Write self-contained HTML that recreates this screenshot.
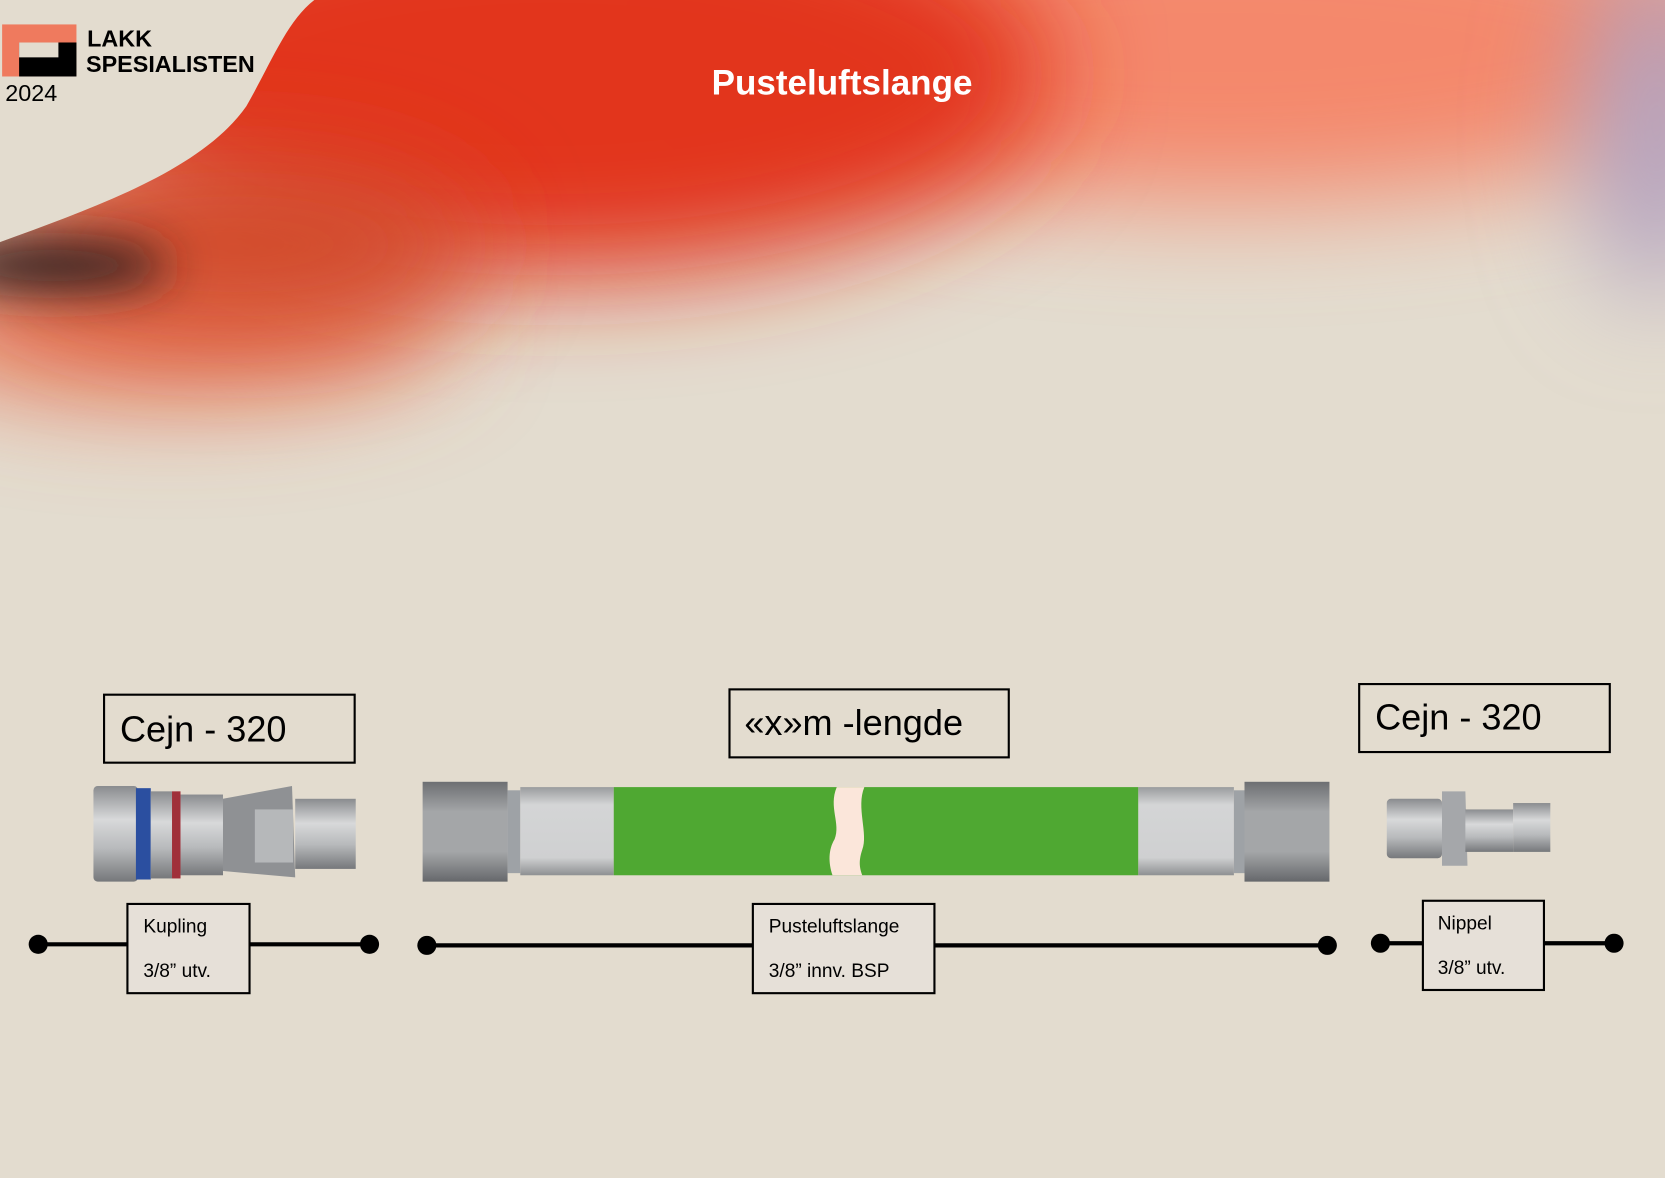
<!DOCTYPE html>
<html><head><meta charset="utf-8"><style>
html,body{margin:0;padding:0;background:#e3dccf}
svg{display:block}
text{font-family:"Liberation Sans",sans-serif}
</style></head><body>
<svg width="1665" height="1178" viewBox="0 0 1568 1109" preserveAspectRatio="none" xmlns="http://www.w3.org/2000/svg">
<defs>
<clipPath id="cp"><path d="M0,228 C90,195 190,160 232,100 C255,60 270,20 296,0 L1568,0 L1568,1109 L0,1109 Z"/></clipPath>
<filter id="b1" filterUnits="userSpaceOnUse" x="-400" y="-400" width="2400" height="1400"><feGaussianBlur stdDeviation="50"/></filter>
<filter id="b2" filterUnits="userSpaceOnUse" x="-400" y="-400" width="2400" height="1400"><feGaussianBlur stdDeviation="22"/></filter>
<linearGradient id="nut" x1="0" y1="0" x2="0" y2="1"><stop offset="0" stop-color="#6d6f72"/><stop offset="0.3" stop-color="#a4a6a8"/><stop offset="0.7" stop-color="#a4a6a8"/><stop offset="1" stop-color="#66686b"/></linearGradient>
<linearGradient id="fer" x1="0" y1="0" x2="0" y2="1"><stop offset="0" stop-color="#9a9c9e"/><stop offset="0.2" stop-color="#d4d5d6"/><stop offset="0.8" stop-color="#cfd0d1"/><stop offset="1" stop-color="#8e9092"/></linearGradient>
<linearGradient id="met" x1="0" y1="0" x2="0" y2="1"><stop offset="0" stop-color="#8a8c8f"/><stop offset="0.35" stop-color="#d8d9da"/><stop offset="0.65" stop-color="#b8babc"/><stop offset="1" stop-color="#76787b"/></linearGradient>
</defs>
<rect width="1568" height="1109" fill="#e3dccf"/>
<g clip-path="url(#cp)">
<ellipse cx="1150" cy="40" rx="520" ry="150" fill="#f4886c" filter="url(#b1)"/>
<ellipse cx="1560" cy="120" rx="70" ry="160" fill="#b3a3c0" filter="url(#b1)"/>
<ellipse cx="160" cy="300" rx="260" ry="70" fill="#e8714f" filter="url(#b1)"/>
<ellipse cx="520" cy="70" rx="470" ry="190" fill="#e2361b" filter="url(#b1)"/>
<ellipse cx="220" cy="230" rx="230" ry="80" fill="#d14a2c" filter="url(#b1)"/>
<ellipse cx="50" cy="250" rx="110" ry="24" fill="#2e2220" filter="url(#b2)"/>
</g>
<text x="793" y="89" font-size="33" font-weight="bold" fill="#fff" text-anchor="middle">Pusteluftslange</text>
<rect x="2" y="23" width="70" height="49" fill="#ef7a5e"/>
<rect x="18" y="40" width="54" height="32" fill="#000"/>
<rect x="18" y="40" width="37" height="14" fill="#e3dccf"/>
<text x="82" y="44" font-size="22" font-weight="bold">LAKK</text>
<text x="81" y="68" font-size="22" font-weight="bold">SPESIALISTEN</text>
<text x="5" y="95" font-size="22">2024</text>
<g fill="none" stroke="#000" stroke-width="2">
<rect x="98" y="654" width="236" height="64"/>
<rect x="687" y="649" width="263" height="64"/>
<rect x="1280" y="644" width="236" height="64"/>
</g>
<text x="113" y="698" font-size="34">Cejn - 320</text>
<text x="701" y="692" font-size="34">«x»m -lengde</text>
<text x="1295" y="687" font-size="34">Cejn - 320</text>
<rect x="88" y="740" width="42" height="90" rx="4" fill="url(#met)"/>
<rect x="128" y="742" width="14" height="86" fill="#2b4fa0"/>
<rect x="142" y="745" width="20" height="82" fill="url(#met)"/>
<rect x="162" y="745" width="8" height="82" fill="#a0303a"/>
<rect x="170" y="748" width="40" height="76" fill="url(#met)"/>
<polygon points="210,752 275,740 278,826 210,820" fill="#8f9194"/>
<rect x="240" y="762" width="36" height="50" fill="#b6b8ba"/>
<rect x="278" y="752" width="57" height="66" fill="url(#met)"/>
<rect x="398" y="736" width="80" height="94" fill="url(#nut)"/>
<rect x="478" y="744" width="12" height="78" fill="#9ea2a6"/>
<rect x="490" y="741" width="88" height="83" fill="url(#fer)"/>
<rect x="578" y="741" width="494" height="83" fill="#4fa832"/>
<path d="M788,741 L814,741 C806,760 818,785 812,800 C808,812 810,818 812,824 L784,824 C780,812 780,800 786,790 C792,775 780,760 788,741 Z" fill="#fbe6da"/>
<rect x="1072" y="741" width="90" height="83" fill="url(#fer)"/>
<rect x="1162" y="744" width="10" height="78" fill="#9ea2a6"/>
<rect x="1172" y="736" width="80" height="94" fill="url(#nut)"/>
<rect x="1306" y="752" width="52" height="56" rx="4" fill="url(#met)"/>
<polygon points="1358,745 1380,745 1382,815 1358,815" fill="#a5a7aa"/>
<rect x="1380" y="762" width="45" height="40" fill="url(#met)"/>
<rect x="1425" y="756" width="35" height="46" fill="url(#met)"/>
<g stroke="#000" stroke-width="4">
<line x1="36" y1="889" x2="348" y2="889"/>
<line x1="402" y1="890" x2="1250" y2="890"/>
<line x1="1300" y1="888" x2="1520" y2="888"/>
</g>
<g fill="#000">
<circle cx="36" cy="889" r="9"/><circle cx="348" cy="889" r="9"/>
<circle cx="402" cy="890" r="9"/><circle cx="1250" cy="890" r="9"/>
<circle cx="1300" cy="888" r="9"/><circle cx="1520" cy="888" r="9"/>
</g>
<g fill="#e6e0d8" stroke="#000" stroke-width="2">
<rect x="120" y="851" width="115" height="84"/>
<rect x="709" y="851" width="171" height="84"/>
<rect x="1340" y="848" width="114" height="84"/>
</g>
<g font-size="18">
<text x="135" y="878">Kupling</text>
<text x="135" y="920">3/8” utv.</text>
<text x="724" y="878">Pusteluftslange</text>
<text x="724" y="920">3/8” innv. BSP</text>
<text x="1354" y="875">Nippel</text>
<text x="1354" y="917">3/8” utv.</text>
</g>
</svg>
</body></html>
